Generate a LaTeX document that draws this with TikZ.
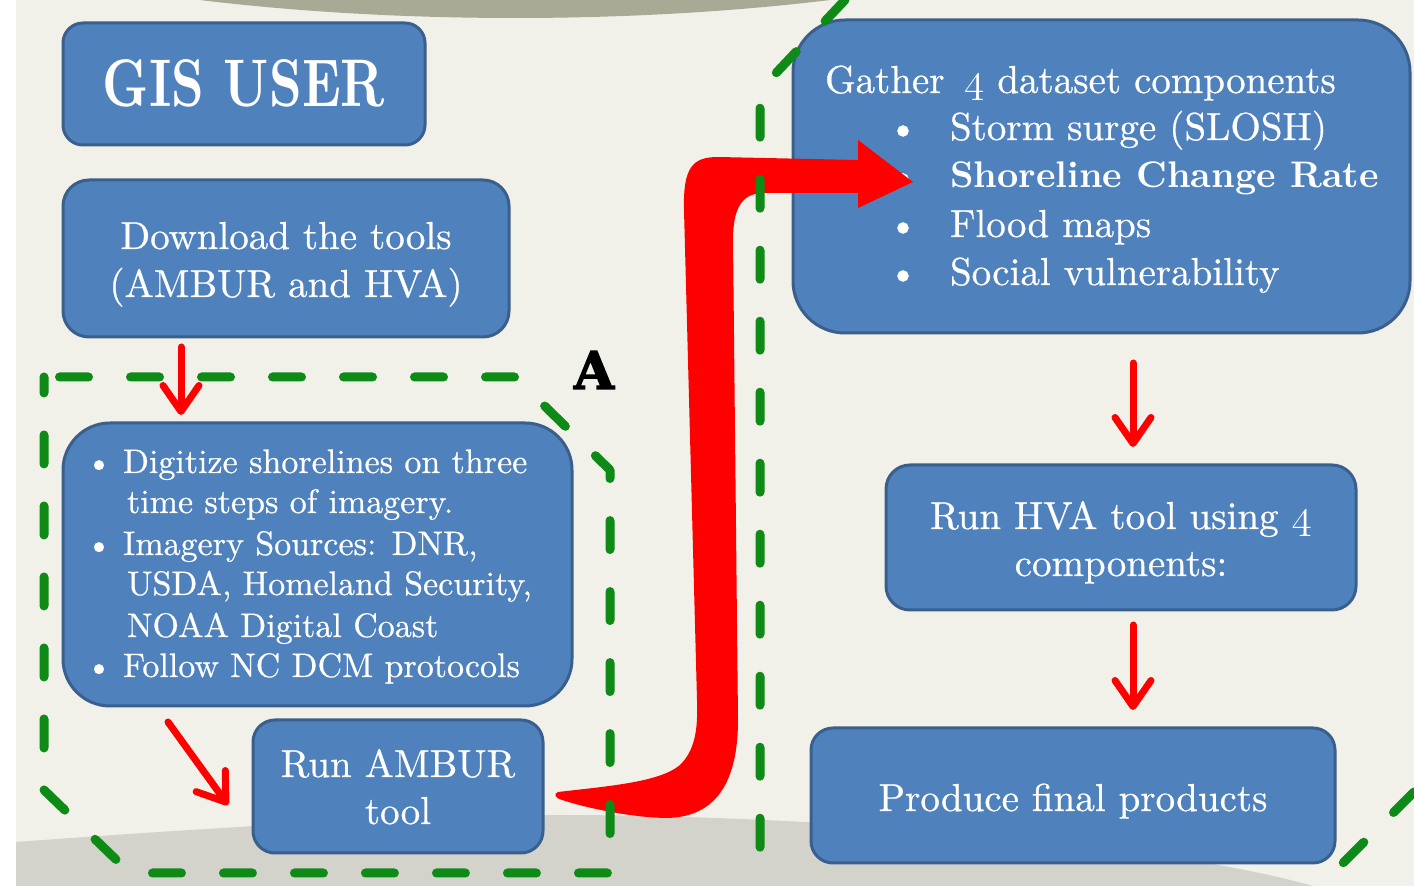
\documentclass[tikz,border=0pt]{standalone}
\usepackage{fontspec}
\usepackage{graphicx}
\newfontfamily\heavyfont{DejaVu Serif}[BoldFeatures={FakeBold=2.5}]
\newfontfamily\bodyfam{lmroman10-regular}[Extension=.otf, BoldFont=lmroman10-bold, UprightFeatures={FakeBold=0.6}]
\usetikzlibrary{arrows.meta,calc}

\definecolor{paper}{HTML}{F2F1E9}
\definecolor{hill}{HTML}{A8AA95}
\definecolor{ground}{HTML}{D3D2CB}
\definecolor{boxfill}{HTML}{4F81BD}
\definecolor{boxedge}{HTML}{3A5F8C}
\definecolor{dashgreen}{HTML}{0E8A16}
\definecolor{flowred}{HTML}{FF0000}

\newcommand\bodyfont{\bodyfam\fontsize{19.5}{23}\selectfont}
\newcommand\listfont{\bodyfam\fontsize{17}{20}\selectfont}
\newcommand\osfour{{\usefont{OML}{lmm}{m}{it}4}}

\tikzset{
  box/.style={draw=boxedge, fill=boxfill, line width=1.5pt, inner sep=0pt, outer sep=0pt},
  txt/.style={text=white, inner sep=0pt, outer sep=0pt, font=\bodyfont},
  ltxt/.style={text=white, inner sep=0pt, outer sep=0pt, font=\listfont, anchor=base west},
  greendash/.style={draw=dashgreen, line width=4.5pt, line cap=round, line join=round,
    dash pattern=on 14.5pt off 21pt},
  thinarrow/.style={draw=flowred, line width=3.5pt, line cap=round,
    -{Straight Barb[round,length=13pt,width=18pt]}},
}

\begin{document}
\begin{tikzpicture}[x=0.5pt,y=-0.5pt]
  \path[use as bounding box] (0,0) rectangle (1414,886);
  \clip (0,0) rectangle (1414,886);

  % paper, hill and ground
  \fill[white] (0,0) rectangle (1414,886);
  \fill[paper] (16,0) rectangle (1414,886);
  \fill[hill] (515,-182) ellipse [x radius=380pt, y radius=100pt];
  \fill[ground] (16,886) -- (16,842) .. controls (150,832) and (400,815) .. (560,815)
     .. controls (800,815) and (1150,840) .. (1313,886) -- cycle;

  % boxes
  \node[box, minimum width=181pt, minimum height=61pt, rounded corners=10pt] (gis) at (244,84) {};
  \node[box, minimum width=223pt, minimum height=78.5pt, rounded corners=13pt] (dl) at (286,258.5) {};
  \node[box, minimum width=254.5pt, minimum height=141.5pt, rounded corners=23.5pt] (dig) at (317.5,564.5) {};
  \node[box, minimum width=145pt, minimum height=66.5pt, rounded corners=11pt] (amb) at (398,786.5) {};
  \node[box, minimum width=308.5pt, minimum height=156.5pt, rounded corners=26pt] (gat) at (1101.5,176.5) {};
  \node[box, minimum width=235pt, minimum height=72.5pt, rounded corners=12pt] (hva) at (1121,537.5) {};
  \node[box, minimum width=262pt, minimum height=67.5pt, rounded corners=11pt] (prod) at (1073,795.5) {};

  % box texts
  \node[txt, anchor=base] (gisT) at (244,107) {\resizebox{141pt}{23.5pt}{\bfseries GIS USER}};

  \node[txt, anchor=base] (dlA) at (286,249) {Download the tools};
  \node[txt, anchor=base] (dlB) at (286,297) {(AMBUR and HVA)};

  \node[ltxt, anchor=base] (digB1) at (99,473) {\textbullet};
  \node[ltxt] (dig1) at (123,473) {Digitize shorelines on three};
  \node[ltxt] (dig2) at (127,513) {time steps of imagery.};
  \node[ltxt, anchor=base] (digB2) at (99,555) {\textbullet};
  \node[ltxt] (dig3) at (123,555) {Imagery Sources: DNR,};
  \node[ltxt] (dig4) at (127,595) {USDA, Homeland Security,};
  \node[ltxt] (dig5) at (127,637) {NOAA Digital Coast};
  \node[ltxt, anchor=base] (digB3) at (99,677) {\textbullet};
  \node[ltxt] (dig6) at (123,677) {Follow NC DCM protocols};

  \node[txt, anchor=base] (ambA) at (398,777) {Run AMBUR};
  \node[txt, anchor=base] (ambB) at (398,824) {tool};

  \node[txt, anchor=base west] (gat0) at (825,93) {Gather\hspace{0.5em}\osfour\ dataset components};
  \node[txt, anchor=base] (gatB1) at (903,140) {\textbullet};
  \node[txt, anchor=base] (gatB2) at (903,188) {\textbullet};
  \node[txt, anchor=base] (gatB3) at (903,237) {\textbullet};
  \node[txt, anchor=base] (gatB4) at (903,285) {\textbullet};
  \node[txt, anchor=base west] (gat1) at (950,140) {Storm surge (SLOSH)};
  \node[txt, anchor=base west, font=\bodyfam\fontsize{18.5}{22}\selectfont] (gat2) at (950,188) {\bfseries Shoreline Change Rate};
  \node[txt, anchor=base west] (gat3) at (950,237) {Flood maps};
  \node[txt, anchor=base west] (gat4) at (950,285) {Social vulnerability};

  \node[txt, anchor=base] (hvaA) at (1121,529) {Run HVA tool using \osfour};
  \node[txt, anchor=base] (hvaB) at (1121,576) {components:};

  \node[txt, anchor=base] (prodT) at (1073,811) {Produce final products};

  % broad hand-drawn arrow from the AMBUR step up into the data gathering step
  \fill[flowred] (558,792) .. controls (610,786) and (660,782) .. (680,765)
     .. controls (695,750) and (698,730) .. (697,700) -- (684,210)
     .. controls (683,168) and (692,157) .. (718,157) -- (858,160) -- (858,140)
     -- (913,182) -- (858,208) -- (858,193) -- (762,193)
     .. controls (742,194) and (733,208) .. (733,240) -- (738,720)
     .. controls (738,790) and (710,818) .. (665,818)
     .. controls (625,817) and (580,806) .. (562,800)
     .. controls (555,798) and (553,794) .. (558,792) -- cycle;

  % dashed green outlines
  \draw[greendash, dash phase=27.75pt] (44,377) -- (515,377) -- (610,470) -- (610,873)
     -- (130,873) -- (44,790) -- cycle;
  \draw[greendash] (845,0) -- (760,90) -- (760,886);
  \draw[greendash] (1414,792) -- (1320,886);

  % label of the dashed group
  \node[inner sep=0pt, font=\heavyfont\bfseries\fontsize{26}{30}\selectfont, anchor=base] (lblA) at (594,389) {A};

  % thin flow arrows
  \draw[thinarrow] ($(dl.south)+(-105,10)$) -- ($(dig.north)+(-136.5,-8)$);
  \draw[thinarrow] ($(dig.south)+(-149.5,16)$) -- ($(amb.west)+(-25,18.5)$);
  \draw[thinarrow] ($(gat.south)+(31.5,30)$) -- ($(hva.north)+(12,-18)$);
  \draw[thinarrow] ($(hva.south)+(12,15)$) -- ($(prod.north)+(60,-18)$);
\end{tikzpicture}
\end{document}
